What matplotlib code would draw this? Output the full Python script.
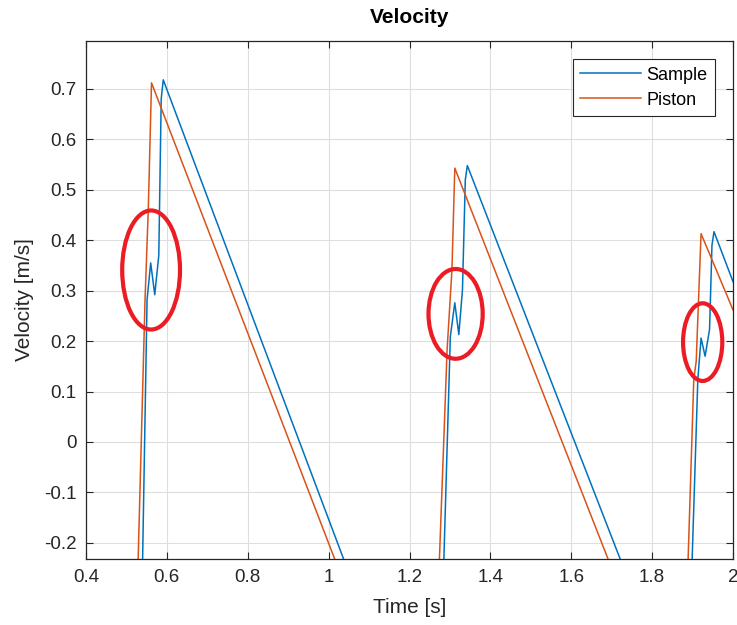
import numpy as np
import matplotlib.pyplot as plt
from matplotlib.patches import Ellipse

plt.rcParams['font.family'] = ['Liberation Sans', 'DejaVu Sans']

nan = np.nan

# Sample velocity (blue); nan splits the three strokes
sample_t = [0.540, 0.551, 0.560, 0.570, 0.580, 0.586, 0.591, 1.037, nan,
            1.285, 1.301, 1.312, 1.322, 1.331, 1.338, 1.343, 1.721, nan,
            1.899, 1.913, 1.921, 1.931, 1.942, 1.948, 1.953, 2.0]
sample_v = [-0.232, 0.282, 0.355, 0.292, 0.37, 0.68, 0.718, -0.232, nan,
            -0.232, 0.209, 0.276, 0.213, 0.302, 0.52, 0.548, -0.232, nan,
            -0.232, 0.124, 0.206, 0.170, 0.223, 0.39, 0.417, 0.318]

# Piston velocity (orange)
piston_t = [0.529, 0.546, 0.554, 0.562, 1.015, nan,
            1.274, 1.293, 1.305, 1.312, 1.691, nan,
            1.889, 1.903, 1.909, 1.921, 2.0]
piston_v = [-0.232, 0.282, 0.460, 0.712, -0.232, nan,
            -0.232, 0.183, 0.342, 0.543, -0.232, nan,
            -0.232, 0.124, 0.16, 0.413, 0.262]

# red highlight circles (centre x, centre y, width, height in data units)
circ_x = [0.561, 1.314, 1.925]
circ_y = [0.341, 0.254, 0.198]
circ_w = [0.143, 0.134, 0.097]
circ_h = [0.236, 0.178, 0.154]

fig = plt.figure(figsize=(7.37, 6.25), dpi=100)
ax = fig.add_axes([86 / 737, 66 / 625, 647 / 737, 518 / 625])

ax.plot(sample_t, sample_v, color='#0072BD', lw=1.1, label='Sample')
ax.plot(piston_t, piston_v, color='#D95319', lw=1.1, label='Piston')

for cx, cy, w, h in zip(circ_x, circ_y, circ_w, circ_h):
    ax.add_patch(Ellipse((cx, cy), w, h, fill=False, edgecolor='#EC1C24', lw=3.0, zorder=5))

ax.set_xlim(0.4, 2.0)
ax.set_ylim(-0.232, 0.795)
ax.set_xticks([0.4, 0.6, 0.8, 1.0, 1.2, 1.4, 1.6, 1.8, 2.0])
ax.set_xticklabels(['0.4', '0.6', '0.8', '1', '1.2', '1.4', '1.6', '1.8', '2'])
ax.set_yticks([-0.2, -0.1, 0, 0.1, 0.2, 0.3, 0.4, 0.5, 0.6, 0.7])
ax.set_yticklabels(['-0.2', '-0.1', '0', '0.1', '0.2', '0.3', '0.4', '0.5', '0.6', '0.7'])

ax.grid(True, color='#DEDEDE', lw=0.8)
ax.set_axisbelow(True)
ax.tick_params(direction='in', length=5, width=0.8, top=True, right=True,
               labelsize=13.5, colors='#262626', pad=7)
for s in ax.spines.values():
    s.set_color('#262626')
    s.set_linewidth(0.9)

ax.set_title('Velocity', fontsize=15, fontweight='bold', pad=13)
ax.set_xlabel('Time [s]', fontsize=15, color='#262626', labelpad=9)
ax.set_ylabel('Velocity [m/s]', fontsize=15, color='#262626', labelpad=7)

leg = ax.legend(loc='upper right', fontsize=13, handlelength=3.4, fancybox=False,
                edgecolor='#262626', framealpha=1, borderpad=0.4, labelspacing=0.45,
                handletextpad=0.3, bbox_to_anchor=(0.986, 0.982))
leg.get_frame().set_linewidth(0.8)

fig.savefig('out.png', dpi=100)
